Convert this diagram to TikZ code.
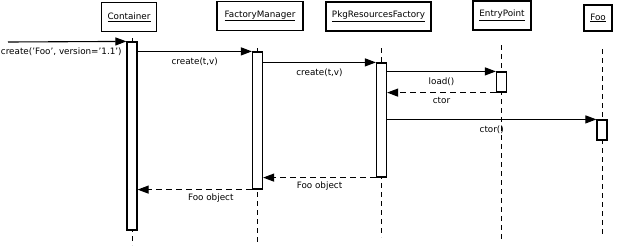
\documentclass[tikz,border=0pt]{standalone}
\usepackage{fontspec}
\setmainfont{DejaVu Sans}
\usetikzlibrary{arrows.meta}

\begin{document}
\begin{tikzpicture}[x=1pt,y=-1pt,font=\fontsize{8.8}{10}\selectfont,
    obj/.style={draw,line width=1.3pt,minimum height=29pt,inner sep=0pt},
    act/.style={draw,fill=white,line width=1.2pt,minimum width=10pt,inner sep=0pt},
    life/.style={line width=0.7pt,dash pattern=on 5pt off 4pt},
    call/.style={line width=1.1pt,-{Triangle[length=11pt,width=8pt]}},
    ret/.style={call,dash pattern=on 6pt off 4pt},
    lbl/.style={inner sep=2pt,below=3.5pt}]
    \useasboundingbox (0,0) rectangle (620,247);

    % objects
    \node[obj,minimum width=55pt] (cont) at (129,17) {\underline{Container}};
    \node[obj,minimum width=86pt] (fm) at (260,16) {\underline{FactoryManager}};
    \node[obj,minimum width=105pt] (prf) at (378.5,16.5) {\underline{PkgResourcesFactory}};
    \node[obj,minimum width=58pt] (ep) at (502,15.5) {\underline{EntryPoint}};
    \node[obj,minimum width=28pt,minimum height=26pt] (foo) at (598,18) {\underline{Foo}};

    % lifelines
    \foreach \x/\t/\b in {132/38/245, 257.5/48/242, 381.5/48/237, 501.5/45/242, 602/49/235}
        \draw[life] (\x,\t) -- (\x,\b);

    % activations
    \node[act,minimum height=188pt] (aCont) at (132,136) {};
    \node[act,minimum height=137pt] (aFM) at (257.5,120.5) {};
    \node[act,minimum height=114pt] (aPRF) at (381.5,120) {};
    \node[act,minimum height=20pt] (aEP) at (501.5,82) {};
    \node[act,minimum height=20pt] (aFoo) at (602,130) {};

    % messages
    \coordinate (caller) at (8,42);
    \draw[call] (caller) -- (aCont.north west) node[lbl,pos=0.45] {create('Foo', version='1.1')};
    \draw[call] (aCont.east |- aFM.north) -- (aFM.north west) node[lbl,midway] {create(t,v)};
    \draw[call] (aFM.east |- aPRF.north) -- (aPRF.north west) node[lbl,midway] {create(t,v)};
    \draw[call] (aPRF.east |- aEP.north) -- (aEP.north west) node[lbl,midway] {load()};
    \draw[ret] (aEP.south west) -- (aPRF.east |- aEP.south) node[lbl,midway,below=-1pt] {ctor};
    \draw[call] (aPRF.east |- aFoo.north) -- (aFoo.north west) node[lbl,midway,below=0pt] {ctor()};
    \draw[ret] (aPRF.south west) -- (aFM.east |- aPRF.south) node[lbl,midway,below=-1.5pt] {Foo object};
    \draw[ret] (aFM.south west) -- (aCont.east |- aFM.south) node[lbl,pos=0.36,below=-1.5pt] {Foo object};
\end{tikzpicture}
\end{document}
